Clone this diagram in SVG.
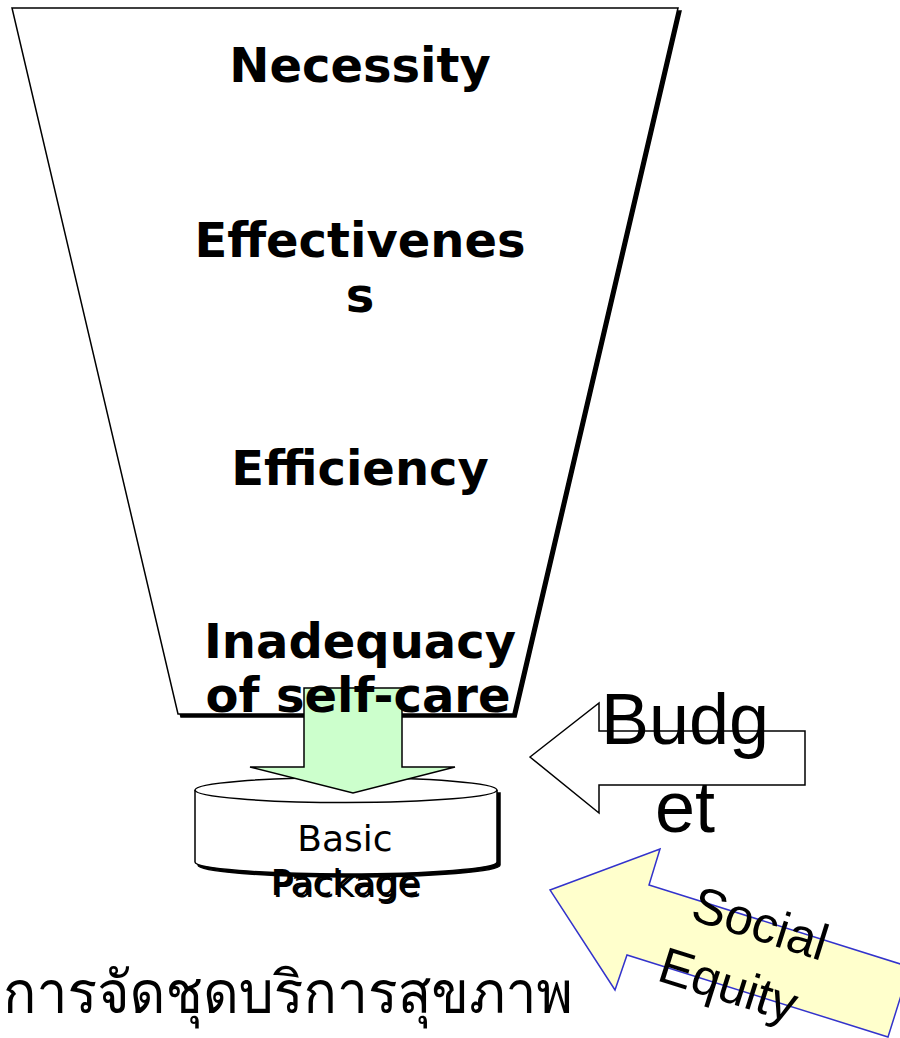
<svg xmlns="http://www.w3.org/2000/svg" width="900" height="1038" viewBox="0 0 900 1038">
  <style>
    .outline { fill: #ffffff; stroke: #000000; stroke-width: 1.5; stroke-linejoin: miter; }
    .shadow { fill: #000000; stroke: #000000; stroke-width: 1.5; }
    .filter-label { font-family: "DejaVu Sans", "Liberation Sans", sans-serif; font-weight: bold; font-size: 48px; fill: #000000; text-anchor: middle; }
    .pkg-label { font-family: "DejaVu Sans", "Liberation Sans", sans-serif; font-size: 36px; fill: #000000; text-anchor: middle; }
    .big-label { font-family: "Liberation Sans", Arial, sans-serif; font-size: 72px; fill: #000000; text-anchor: middle; }
    .equity-label { font-family: "Liberation Sans", Arial, sans-serif; font-size: 51px; fill: #000000; text-anchor: middle; }
    .thai-label { font-family: "Loma", "Garuda", "Norasi", "Noto Sans Thai Looped", "Noto Sans Thai", "DejaVu Sans", sans-serif; font-size: 59px; fill: #000000; }
  </style>

  <!-- Funnel of selection criteria -->
  <g id="funnel">
    <polygon class="shadow" points="15,11 681,11 516,717 181,717"/>
    <polygon class="outline" points="12,8 678,8 513,714 178,714"/>
  </g>

  <!-- Basic package drum -->
  <g id="basic-package">
    <path class="shadow" d="M198,793 V865 A151,12 0 0 0 500,865 V793 Z"/>
    <path class="outline" d="M195,790 V862 A151,12 0 0 0 497,862 V790"/>
    <ellipse class="outline" cx="346" cy="790" rx="151" ry="12.5"/>
  </g>

  <!-- Connectors: block arrows -->
  <g id="connectors">
    <polygon id="funnel-to-package" points="304,688 402,688 402,767 455,767 353,793 250,767 304,767"
             fill="#ccffcc" stroke="#000000" stroke-width="1.5"/>
    <polygon id="budget-arrow" points="530,757 599,703 599,731 805,731 805,785 599,785 599,813"
             fill="#ffffff" stroke="#000000" stroke-width="1.5"/>
    <polygon id="equity-arrow" points="550,890 660,849 649,885 910,967 888,1037 627,955 615,990"
             fill="#ffffcc" stroke="#3333cc" stroke-width="1.5"/>
  </g>

  <!-- Funnel labels -->
  <g id="funnel-labels">
    <text class="filter-label" x="360" y="82">Necessity</text>
    <text class="filter-label" x="360" y="257">Effectivenes</text>
    <text class="filter-label" x="360" y="312">s</text>
    <text class="filter-label" x="360" y="485">Efficiency</text>
    <text class="filter-label" x="360" y="658">Inadequacy</text>
    <text class="filter-label" x="358" y="712">of self-care</text>
  </g>

  <!-- Package labels -->
  <g id="package-labels">
    <text class="pkg-label" x="345" y="851">Basic</text>
    <text class="pkg-label" x="347" y="897" fill="#333333">Package</text>
    <text class="pkg-label" x="345" y="895">Package</text>
  </g>

  <!-- Budget label -->
  <g id="budget-label">
    <text class="big-label" x="685" y="744">Budg</text>
    <text class="big-label" x="685" y="832">et</text>
  </g>

  <!-- Social equity label -->
  <g id="equity-label" transform="translate(755,940) rotate(17.5)">
    <text class="equity-label" x="0" y="0">Social</text>
    <text class="equity-label" x="-12" y="68">Equity</text>
  </g>

  <!-- Caption -->
  <g id="caption">
    <text class="thai-label" x="3" y="1013" textLength="570" lengthAdjust="spacingAndGlyphs">การจัดชุดบริการสุขภาพ</text>
  </g>
</svg>
